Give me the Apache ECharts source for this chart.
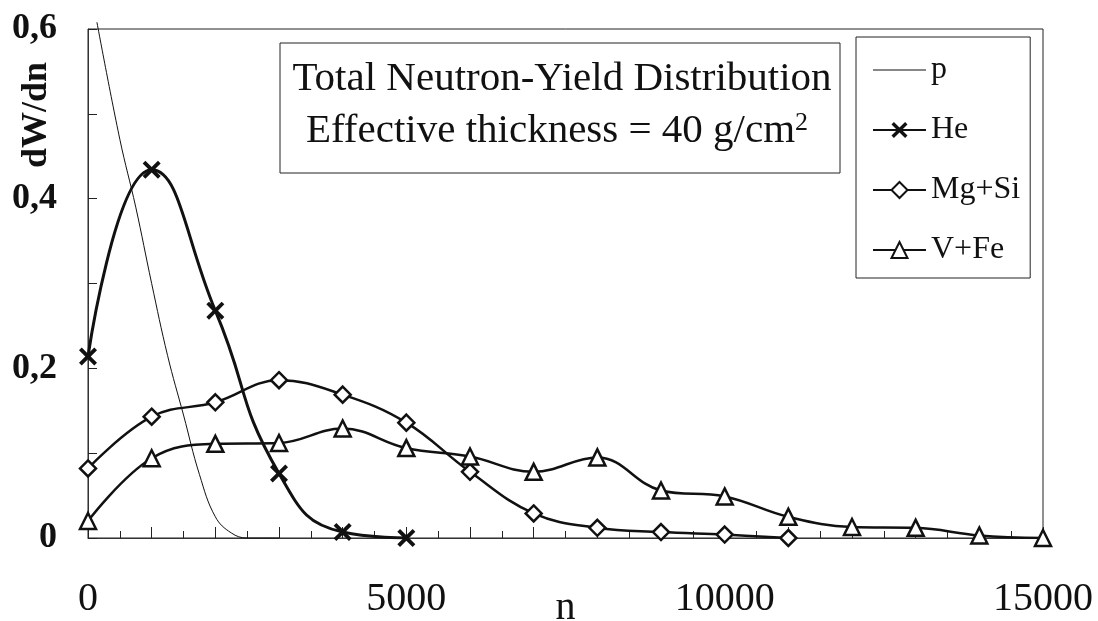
<!DOCTYPE html>
<html>
<head>
<meta charset="utf-8">
<script src="https://cdn.jsdelivr.net/npm/echarts@6/dist/echarts.min.js"></script>
<style>
  html, body { margin: 0; padding: 0; background: #fff; }
  #chart { width: 1098px; height: 621px; }
</style>
</head>
<body>
<div id="chart"></div>
<script>
// values
const seriesNames = ['p', 'He', 'Mg+Si', 'V+Fe'];

const pN = [140, 500, 750, 1000, 1250, 1500, 1750, 2000, 2250, 2500, 3000];
const pW = [0.608, 0.47, 0.39, 0.30, 0.215, 0.145, 0.075, 0.025, 0.006, 0.0, 0.0];

const heN = [0, 1000, 2000, 3000, 4000, 5000];
const heW = [0.214, 0.434, 0.268, 0.076, 0.007, 0.0];

const mgN = [0, 1000, 2000, 3000, 4000, 5000, 6000, 7000, 8000, 9000, 10000, 11000];
const mgW = [0.082, 0.143, 0.160, 0.186, 0.169, 0.136, 0.078, 0.029, 0.012, 0.007, 0.004, 0.0];

const feN = [0, 1000, 2000, 3000, 4000, 5000, 6000, 7000, 8000, 9000, 10000, 11000, 12000, 13000, 14000, 15000];
const feW = [0.02, 0.094, 0.111, 0.112, 0.129, 0.106, 0.096, 0.078, 0.095, 0.056, 0.049, 0.025, 0.013, 0.012, 0.003, 0.0];

const titleLine1 = 'Total Neutron-Yield Distribution';
const titleLine2 = 'Effective thickness = 40 g/cm{sup|2}';
const yName = 'dW/dn';
const xName = 'n';

function pairs(xs, ys) {
  return xs.map((x, i) => [x, ys[i]]);
}

const serif = "'Liberation Serif', 'Times New Roman', serif";
const ink = '#111';
const crossPath = 'path://M0,3 L3,0 L10,7 L17,0 L20,3 L13,10 L20,17 L17,20 L10,13 L3,20 L0,17 L7,10 Z';
const thinLine = 'path://M0,0 L100,0 L100,2 L0,2 Z';

const chart = echarts.init(document.getElementById('chart'));

const option = {
  animation: false,
  backgroundColor: '#fff',
  grid: {
    left: 88,
    right: 55,
    top: 29,
    bottom: 83,
    outerBoundsMode: 'none',
    containLabel: false,
    show: true,
    borderColor: '#222',
    borderWidth: 1
  },
  xAxis: {
    type: 'value',
    min: 0,
    max: 15000,
    interval: 1000,
    name: xName,
    nameLocation: 'middle',
    nameGap: 50,
    nameMoveOverlap: false,
    nameTextStyle: { fontFamily: serif, fontSize: 40, color: ink },
    axisLine: { lineStyle: { color: '#333', width: 1 } },
    axisTick: { inside: true, length: 11, lineStyle: { color: '#222' } },
    minorTick: { show: true, splitNumber: 2, length: 7, lineStyle: { color: '#222' } },
    splitLine: { show: false },
    axisLabel: {
      margin: 41,
      fontFamily: serif,
      fontSize: 40,
      color: ink,
      formatter: function (v) {
        return Math.round(v) % 5000 === 0 ? String(Math.round(v)) : '';
      }
    }
  },
  yAxis: {
    type: 'value',
    min: 0,
    max: 0.6,
    interval: 0.1,
    axisLine: { show: true, lineStyle: { color: '#333', width: 1 } },
    axisTick: { show: true, inside: true, length: 9, lineStyle: { color: '#222' } },
    splitLine: { show: false },
    axisLabel: {
      margin: 31,
      fontFamily: serif,
      fontSize: 36,
      fontWeight: 'bold',
      color: ink,
      formatter: function (v) {
        const k = Math.round(v * 10);
        if (k % 2 !== 0) return '';
        return String(k / 10).replace('.', ',');
      }
    }
  },
  legend: {
    data: [{ name: 'p', icon: thinLine }, 'He', 'Mg+Si', 'V+Fe'],
    orient: 'vertical',
    left: 856,
    top: 37,
    padding: [17, 10, 12, 16],
    itemWidth: 53,
    itemHeight: 20,
    itemGap: 28,
    borderColor: '#222',
    borderWidth: 1,
    backgroundColor: '#fff',
    textStyle: { fontFamily: serif, fontSize: 32, lineHeight: 32, color: ink }
  },
  graphic: [
    {
      type: 'rect',
      shape: { x: 280, y: 43, width: 560, height: 130 },
      style: { fill: '#fff', stroke: '#222', lineWidth: 1 },
      z: 10
    },
    {
      type: 'text',
      x: 562,
      y: 79,
      z: 11,
      style: {
        text: titleLine1,
        font: '41px ' + serif,
        fill: ink,
        align: 'center',
        verticalAlign: 'middle'
      }
    },
    {
      type: 'text',
      x: 557,
      y: 131,
      z: 11,
      style: {
        text: titleLine2,
        fontFamily: serif,
        fontSize: 41,
        fill: ink,
        align: 'center',
        verticalAlign: 'middle',
        rich: {
          sup: { fontFamily: serif, fontSize: 26, verticalAlign: 'top', fill: ink }
        }
      }
    },
    {
      type: 'text',
      x: 37,
      y: 115,
      rotation: Math.PI / 2,
      style: {
        text: yName,
        fontFamily: serif,
        fontSize: 36,
        fontWeight: 'bold',
        fill: ink,
        align: 'center',
        verticalAlign: 'middle'
      }
    }
  ],
  series: [
    {
      name: 'p',
      type: 'line',
      data: pairs(pN, pW),
      smooth: 0.4,
      symbol: 'none',
      clip: false,
      lineStyle: { color: ink, width: 1 },
      itemStyle: { color: ink }
    },
    {
      name: 'He',
      type: 'line',
      data: pairs(heN, heW),
      smooth: 0.5,
      symbol: crossPath,
      symbolSize: 18,
      lineStyle: { color: ink, width: 3 },
      itemStyle: { color: ink }
    },
    {
      name: 'Mg+Si',
      type: 'line',
      data: pairs(mgN, mgW),
      smooth: 0.4,
      symbol: 'diamond',
      symbolSize: 16,
      lineStyle: { color: ink, width: 2.5 },
      itemStyle: { color: '#fff', borderColor: ink, borderWidth: 2.5 }
    },
    {
      name: 'V+Fe',
      type: 'line',
      data: pairs(feN, feW),
      smooth: 0.4,
      symbol: 'triangle',
      symbolSize: 16,
      lineStyle: { color: ink, width: 2.5 },
      itemStyle: { color: '#fff', borderColor: ink, borderWidth: 2.5 }
    }
  ]
};

chart.setOption(option);
</script>
</body>
</html>
